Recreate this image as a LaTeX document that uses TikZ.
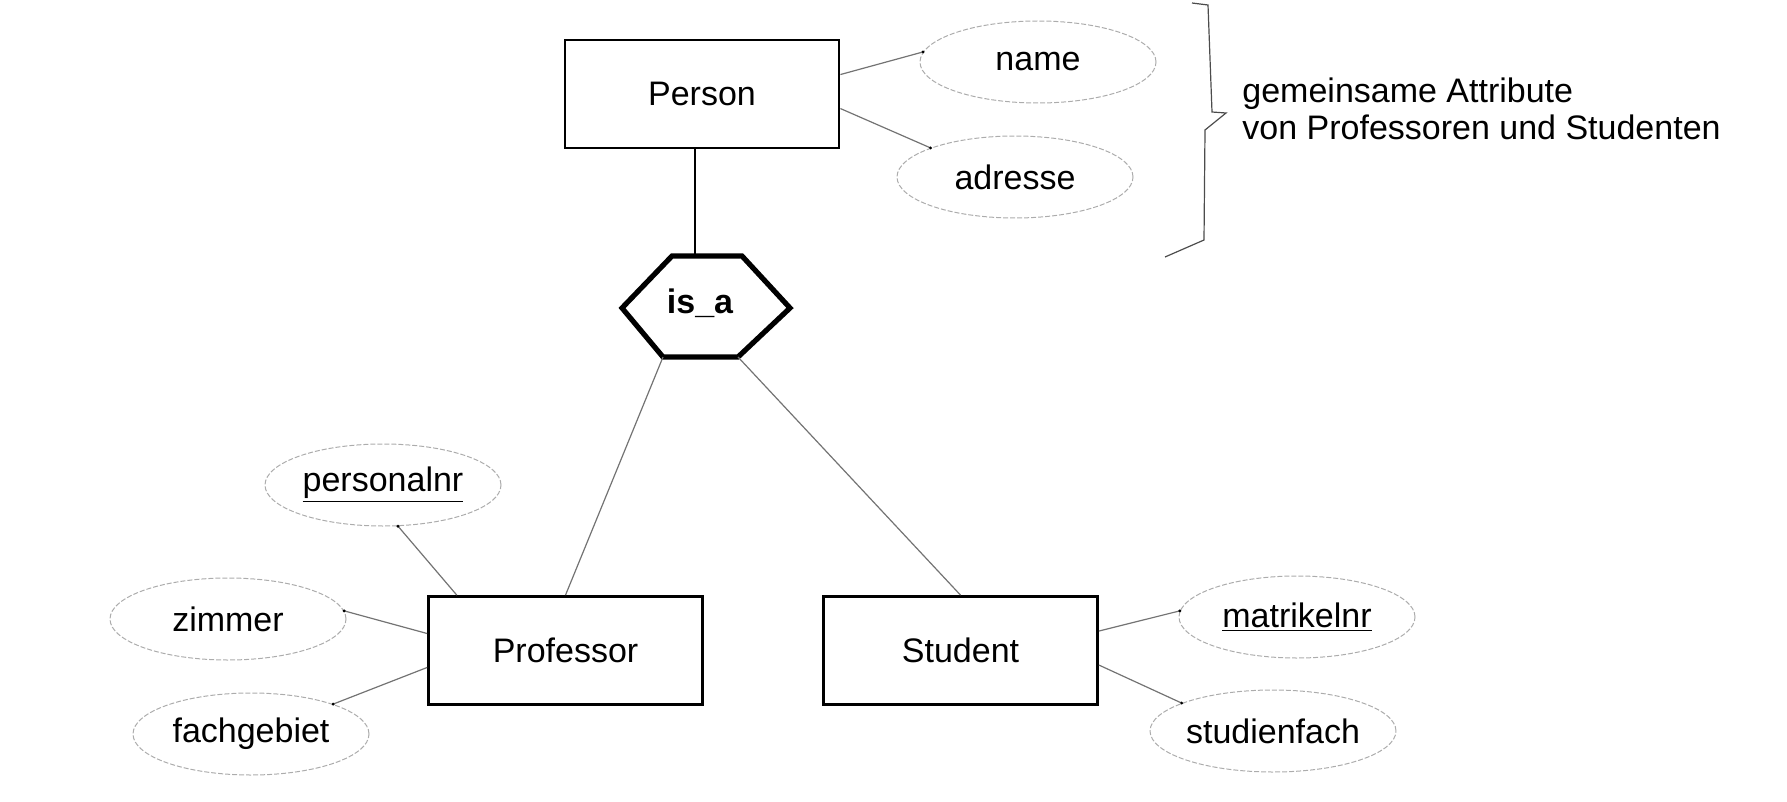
\documentclass[tikz,border=0pt]{standalone}
\usepackage{fontspec}
\setmainfont{Liberation Sans}
\usetikzlibrary{shapes.geometric}

\begin{document}
\begin{tikzpicture}[x=0.5pt,y=-0.5pt]
	\tikzset{every node/.style = {font = \fontsize{17pt}{20pt}\selectfont},
		entity/.style = {draw, line width = 1.4pt, minimum width = 137pt, minimum height = 54pt, inner sep = 0pt},
		attr/.style = {ellipse, draw = gray!65, line width = 0.5pt, dash pattern = on 2.5pt off 1pt, minimum width = 118pt, minimum height = 41pt, inner sep = 0pt},
		link/.style = {black!55, line width = 0.6pt}}
	\useasboundingbox (0,0) rectangle (1787,802);
	% entities
	\node[entity] (Person) at (702,94) {Person};
	\node[entity] (Prof) at (565.5,650.5) {Professor};
	\node[entity] (Stud) at (960.5,650.5) {Student};
	% attributes
	\node[attr] (Nm) at (1038,62) {name};
	\node[attr] (Adr) at (1015,177) {adresse};
	\node[attr] (Pnr) at (383,485) {\underline{personalnr}};
	\node[attr] (Zim) at (228,619) {zimmer};
	\node[attr] (Fach) at (251,734) {fachgebiet};
	\node[attr] (Mat) at (1297,617) {\underline{matrikelnr}};
	\node[attr] (Stf) at (1273,731) {studienfach};
	% is_a
	\coordinate (IsaL) at (622,308);
	\coordinate (IsaTL) at (672,256);
	\coordinate (IsaT) at (695,256);
	\coordinate (IsaTR) at (742,256);
	\coordinate (IsaR) at (790,308);
	\coordinate (IsaBR) at (738,357);
	\coordinate (IsaBL) at (663,357);
	\draw[line width = 2.6pt, line join = miter] (IsaL) -- (IsaTL) -- (IsaTR) -- (IsaR) -- (IsaBR) -- (IsaBL) -- cycle;
	\node[font = \fontsize{17pt}{20pt}\selectfont\bfseries] (Isa) at (700,303) {is\_a};
	\draw[line width = 1.4pt] (IsaT |- Person.south) -- (IsaT);
	\draw[link] (IsaBL) -- (Prof.north);
	\draw[link] (IsaBR) -- (Stud.north);
	% attribute links
	\draw[link] (Person.8) -- (Nm.175);
	\draw[link] (Person.-6) -- (Adr.161);
	\draw[link] (Prof.153) -- (Pnr.-70);
	\draw[link] (Prof.173) -- (Zim.4);
	\draw[link] (Prof.187) -- (Fach.20);
	\draw[link] (Stud.8) -- (Mat.177);
	\draw[link] (Stud.-6) -- (Stf.163);
	\foreach \p in {Nm.175, Adr.161, Pnr.-70, Zim.4, Fach.20, Mat.177, Stf.163}
		\fill (\p) circle (1.6);
	% brace and note
	\coordinate (BrA) at (1192,3);
	\coordinate (BrTip) at (1226,113);
	\coordinate (BrE) at (1165,257);
	\draw[black!70, line width = 0.6pt] (BrA) -- (1208,5) -- (1212,112) -- (BrTip) -- (1205,130) -- (1204,240) -- (BrE);
	\node[anchor = base west, align = left, inner sep = 0pt, font = \fontsize{17pt}{18.5pt}\selectfont] (Note) at (1242,140) {gemeinsame Attribute\\von Professoren und Studenten};
\end{tikzpicture}
\end{document}
